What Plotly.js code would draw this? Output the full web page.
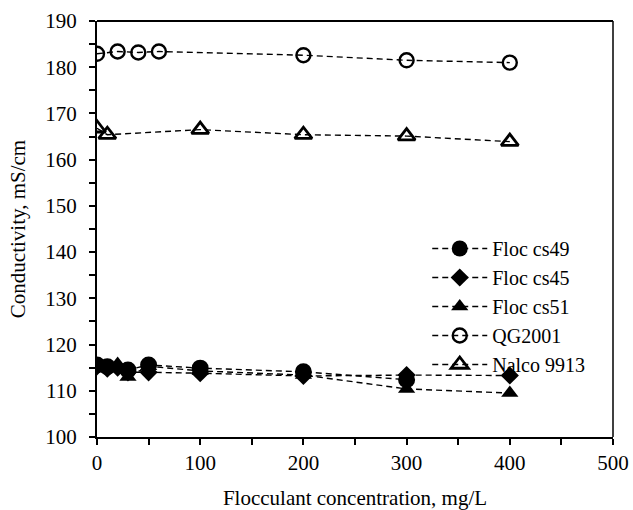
<!DOCTYPE html>
<html>
<head>
<meta charset="utf-8">
<script src="https://cdn.plot.ly/plotly-3.0.1.min.js"></script>
<style>html,body{margin:0;padding:0;background:#fff;}#chart{width:633px;height:510px;}</style>
</head>
<body>
<div id="chart"></div>
<script>
const seriesNames = ["Floc cs49", "Floc cs45", "Floc cs51", "QG2001", "Nalco 9913"];

const xCs49 = [0, 10, 30, 50, 100, 200, 300];
const yCs49 = [115.6, 115.2, 114.5, 115.6, 114.9, 114.1, 112.4];

const xCs45 = [0, 10, 20, 30, 50, 100, 200, 300, 400];
const yCs45 = [115.3, 114.8, 115.0, 114.0, 114.0, 113.8, 113.2, 113.4, 113.3];

const xCs51 = [0, 10, 20, 30, 50, 100, 200, 300, 400];
const yCs51 = [115.5, 115.0, 115.8, 113.0, 115.3, 114.3, 113.4, 110.4, 109.5];

const xQG = [0, 20, 40, 60, 200, 300, 400];
const yQG = [182.9, 183.4, 183.2, 183.4, 182.6, 181.5, 181.0];

const xNalco = [0, 10, 100, 200, 300, 400];
const yNalco = [166.8, 165.4, 166.5, 165.4, 165.1, 163.9];

const xTickVals = [0, 100, 200, 300, 400, 500];
const yTickVals = [100, 110, 120, 130, 140, 150, 160, 170, 180, 190];

const dash = '6px,4px';
const lineStyle = {color: '#000', width: 1.4, dash: dash};

const traces = [
  {x: xCs49, y: yCs49, name: seriesNames[0], mode: 'lines+markers', line: lineStyle,
   marker: {symbol: 'circle', size: 17, color: '#000'}},
  {x: xCs45, y: yCs45, name: seriesNames[1], mode: 'lines+markers', line: lineStyle,
   marker: {symbol: 'diamond', size: 14, color: '#000'}},
  {x: xCs51, y: yCs51, name: seriesNames[2], mode: 'lines+markers', line: lineStyle,
   marker: {symbol: 'triangle-up', size: 15, color: '#000'}},
  {x: xQG, y: yQG, name: seriesNames[3], mode: 'lines+markers', line: lineStyle,
   marker: {symbol: 'circle-open', size: 14, color: '#000', line: {width: 2.4, color: '#000'}}},
  {x: xNalco, y: yNalco, name: seriesNames[4], mode: 'lines+markers', line: lineStyle,
   marker: {symbol: 'triangle-up-open', size: 15, color: '#000', line: {width: 2.8, color: '#000'}}}
];

const font = {family: '"Liberation Serif", "Times New Roman", serif', color: '#000', size: 20};

const layout = {
  width: 633, height: 510,
  margin: {l: 97, r: 20, t: 21, b: 73},
  paper_bgcolor: '#fff', plot_bgcolor: '#fff',
  font: font,
  showlegend: true,
  legend: {x: 0.64, y: 0.5, xanchor: 'left', yanchor: 'top', bgcolor: 'rgba(0,0,0,0)',
           font: {family: font.family, size: 20, color: '#000'}, tracegroupgap: 0, itemwidth: 55},
  xaxis: {
    range: [0, 500], tickvals: xTickVals, ticks: 'outside', ticklen: 6, tickwidth: 2, tickcolor: '#000',
    showline: true, linewidth: 2, linecolor: '#000', showgrid: false, zeroline: false,
    minor: {dtick: 50, ticks: 'outside', ticklen: 6, tickwidth: 2, tickcolor: '#000', showgrid: false},
    tickfont: {size: 21}, title: {text: 'Flocculant concentration, mg/L', font: {size: 21}, standoff: 16}
  },
  yaxis: {
    range: [100, 190], tickvals: yTickVals, ticks: 'outside', ticklen: 6, tickwidth: 2, tickcolor: '#000',
    showline: true, linewidth: 2, linecolor: '#000', showgrid: false, zeroline: false, ticklabelstandoff: 8,
    minor: {dtick: 5, ticks: 'outside', ticklen: 6, tickwidth: 2, tickcolor: '#000', showgrid: false},
    tickfont: {size: 21}, title: {text: 'Conductivity, mS/cm', font: {size: 21}, standoff: 14}
  },
  shapes: [
    {type: 'line', xref: 'paper', yref: 'paper', x0: 0, x1: 1, y0: 1, y1: 1, line: {color: '#000', width: 2}},
    {type: 'line', xref: 'paper', yref: 'paper', x0: 1, x1: 1, y0: 0, y1: 1, line: {color: '#000', width: 1.5}}
  ]
};

Plotly.newPlot('chart', traces, layout, {staticPlot: true, displayModeBar: false});
</script>
</body>
</html>
